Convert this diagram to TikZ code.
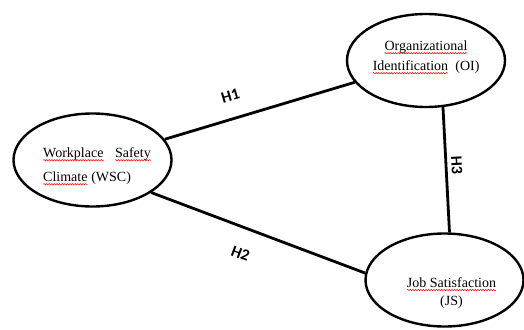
\documentclass[tikz,border=0pt]{standalone}
\usepackage{fontspec}
\setmainfont{Liberation Serif}
\newfontfamily\hypfont{Carlito}
\usepackage{xcolor}
\usetikzlibrary{shapes.geometric,decorations.pathmorphing}
% red wavy underline, as under the words of the reference
\newcommand\spellwave[1]{\tikz[baseline=(w.base), x=1cm, y=1cm]{%
  \node[shape=rectangle, minimum width=0pt, minimum height=0pt, inner sep=0pt, outer sep=0pt,
    anchor=base, draw=none] (w) {#1};
  \draw[red, line width=0.5pt, decorate, decoration={snake, amplitude=0.7pt, segment length=2.6pt}]
    ([yshift=-2.6pt]w.base west) -- ([yshift=-2.6pt]w.base east);}}

\begin{document}
\begin{tikzpicture}[
  x=1pt, y=-1pt,
  construct/.style={draw, ellipse, line width=2.4pt, minimum width=158pt, minimum height=93pt, inner sep=0pt},
  txt/.style={inner sep=0pt, font=\fontsize{14}{#1}\selectfont},
  link/.style={line width=2.8pt},
  hyp/.style={font=\hypfont\fontsize{16}{16}\selectfont\bfseries, sloped, inner sep=3pt}
]
\useasboundingbox (0,0) rectangle (524,329);
% Constructs
\node[construct] (wsc) at (92.5,160) {};
\node[construct] (oi) at (426,60.5) {};
\node[construct] (js) at (444.5,280) {};
\node[txt=24, align=left] (wsc-t) at ([xshift=4.5pt, yshift=-6.5pt]wsc.center)
  {\spellwave{Workplace}\hspace{11pt}\spellwave{Safety}\\ \spellwave{Climate} (WSC)};
\node[txt=20, align=center] (oi-t) at ([yshift=3pt]oi.center)
  {\spellwave{Organizational}\\ \spellwave{Identification}\ \ (OI)};
\node[txt=18, align=center] (js-t) at ([xshift=7pt, yshift=-13pt]js.center)
  {\spellwave{Job Satisfaction}\\ (JS)};
% Hypotheses
\draw[link] (wsc.16) -- node[hyp, pos=0.38, above=13pt] (h1) {H1} (oi.197);
\draw[link] (wsc.-29) -- node[hyp, pos=0.46, below=16pt] (h2) {H2} (js.175);
\draw[link] (oi.-70) -- node[hyp, pos=0.47, above=1pt] (h3) {H3} (js.84);
\end{tikzpicture}
\end{document}
